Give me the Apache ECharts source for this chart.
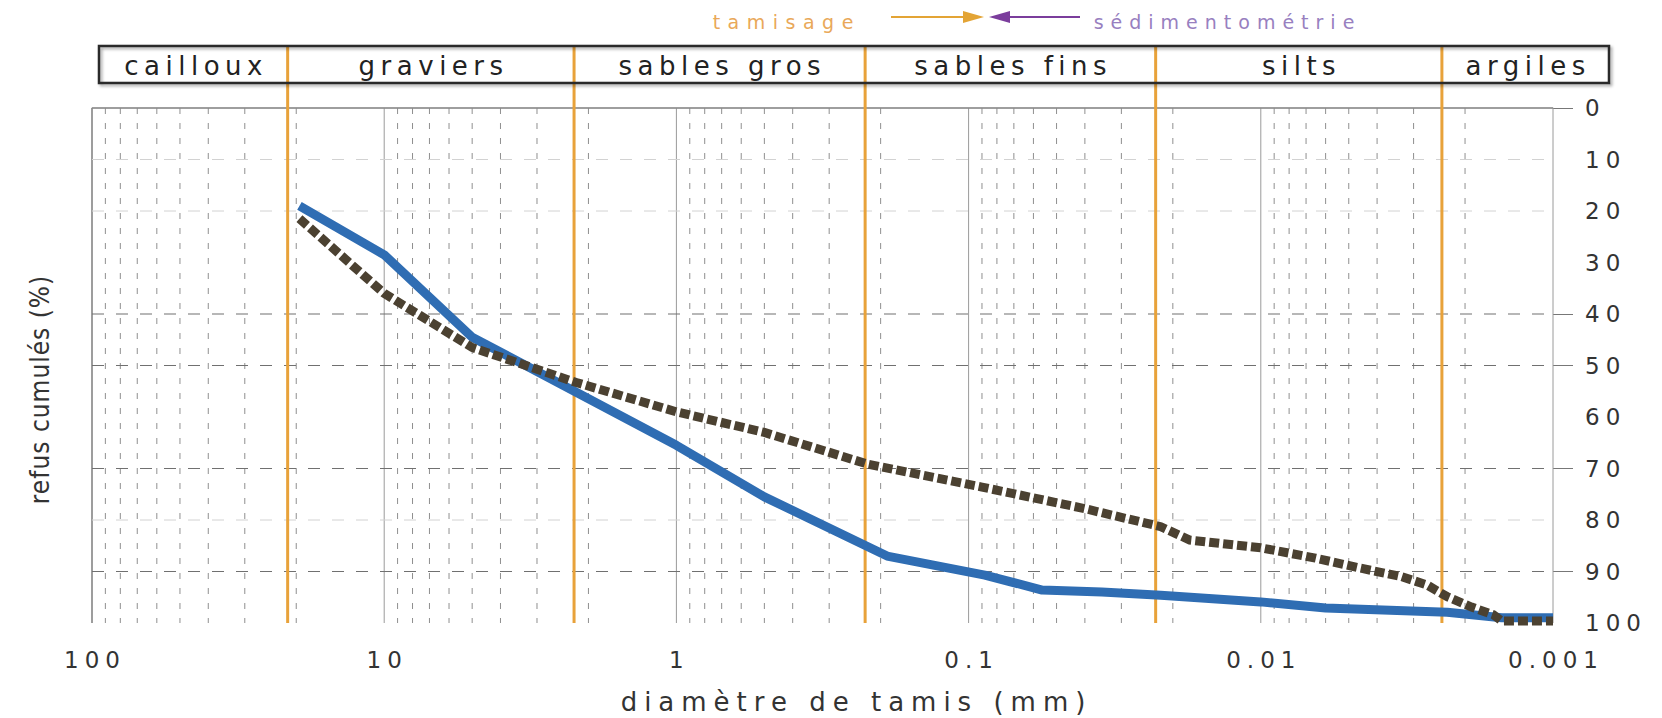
<!DOCTYPE html>
<html><head><meta charset="utf-8">
<script src="https://cdn.jsdelivr.net/npm/echarts@6/dist/echarts.min.js"></script>
<style>html,body{margin:0;padding:0;background:#fff}#c{width:1662px;height:718px}</style>
</head><body><div id="c"></div>
<script>
// ---- data ----
const classNames = ['cailloux', 'graviers', 'sables gros', 'sables fins', 'silts', 'argiles'];
const classBounds = [21.4, 2.24, 0.226, 0.0229, 0.0024];          // mm, class limits (orange lines)
const decades = [100, 10, 1, 0.1, 0.01, 0.001];
const xTickLabels = ['100', '10', '1', '0.1', '0.01', '0.001'];
const minorBases = [10, 1, 0.1, 0.01, 0.001];
const minorMultipliers = [2, 3, 4, 5, 6, 7, 8, 9];
const yTickValues = [0, 10, 20, 30, 40, 50, 60, 70, 80, 90, 100];
const hGridDark = [40, 50, 70, 90];
const hGridLight = [10, 20, 80];

const blueDiam = [19.5, 10, 5, 1, 0.5, 0.19, 0.088, 0.056, 0.035, 0.022, 0.01, 0.006, 0.0023, 0.0015, 0.001];
const bluePct  = [19, 28.5, 44.5, 65.5, 75.5, 87, 90.7, 93.6, 94, 94.6, 95.9, 97.1, 97.9, 99, 99];

const brownDiam = [19.5, 10, 5, 2.2, 1, 0.5, 0.22, 0.09, 0.04, 0.022, 0.0175, 0.01, 0.0065, 0.0046, 0.0033, 0.0027, 0.0023, 0.0019, 0.0016, 0.0015, 0.001];
const brownPct  = [21.5, 36, 46.5, 53.3, 59, 63, 69.2, 73.6, 77.8, 81.3, 83.9, 85.4, 87.4, 89.3, 91, 92.6, 94.9, 96.9, 98.4, 99.6, 99.6];

// ---- style ----
const FONT = '"DejaVu Sans", sans-serif';
const ORANGE = '#e8a23a';
const BLUE = '#2f6db3';
const BROWN = '#4b4131';
const TXT = '#333333';

const chartDom = document.getElementById('c');
const chart = echarts.init(chartDom, null, {renderer: 'svg', width: 1662, height: 718});

function fmtX(v) {
  let best = 0, bd = 1e9;
  decades.forEach((d, i) => { const e = Math.abs(Math.log10(v) - Math.log10(d)); if (e < bd) { bd = e; best = i; } });
  return xTickLabels[best];
}

const minorValues = [];
minorBases.forEach(b => minorMultipliers.forEach(m => minorValues.push(b * m)));

// vertical rule lines drawn through the axis scales
function vRules(values, style, gi, y0, y1, z) {
  return {
    type: 'custom', xAxisIndex: gi, yAxisIndex: gi, z: z, silent: true, clip: false, animation: false,
    data: values.map(v => [v, y0, y1]), encode: {x: 0, y: [1, 2]},
    renderItem: (params, api) => {
      const a = api.coord([api.value(0), api.value(1)]);
      const b = api.coord([api.value(0), api.value(2)]);
      return {type: 'line', shape: {x1: a[0], y1: a[1], x2: b[0], y2: b[1]}, style: Object.assign({fill: null}, style)};
    }
  };
}
// horizontal rule lines
function hRules(values, style, z) {
  return {
    type: 'custom', xAxisIndex: 0, yAxisIndex: 0, z: z, silent: true, clip: false, animation: false,
    data: values.map(v => [100, v, 0.001]), encode: {x: [0, 2], y: 1},
    renderItem: (params, api) => {
      const a = api.coord([api.value(0), api.value(1)]);
      const b = api.coord([api.value(2), api.value(1)]);
      return {type: 'line', shape: {x1: a[0], y1: a[1], x2: b[0], y2: b[1]}, style: Object.assign({fill: null}, style)};
    }
  };
}

const logAxis = (grid, show) => ({
  type: 'log', logBase: 10, min: 0.001, max: 100, inverse: true, gridIndex: grid, show: show,
  axisLine: {show: true, lineStyle: {color: '#cfcfcf', width: 1.5}}, axisTick: {show: false},
  splitLine: {show: false}, minorTick: {show: false}, minorSplitLine: {show: false},
  axisLabel: {margin: 25, fontSize: 23, fontFamily: FONT, color: TXT, formatter: fmtX, showMinLabel: true, showMaxLabel: true}
});

chart.setOption({
  animation: false,
  grid: [
    {left: 92, right: 109, top: 108, bottom: 95},
    {left: 92, right: 109, top: 46, height: 62}
  ],
  xAxis: [logAxis(0, true), logAxis(1, false)],
  yAxis: [
    {type: 'value', gridIndex: 0, min: 0, max: 100, interval: 10, inverse: true, position: 'right',
     axisLine: {show: false}, splitLine: {show: false},
     axisTick: {show: true, length: 20, lineStyle: {color: '#777'}, customValues: [0, 40, 50, 70, 90]},
     axisLabel: {margin: 32, fontSize: 23, fontFamily: FONT, color: TXT, customValues: yTickValues}},
    {type: 'value', gridIndex: 1, min: 0, max: 1, show: false}
  ],
  series: [
    vRules(minorValues, {stroke: '#8f8f8f', lineWidth: 1, lineDash: [6, 9]}, 0, 0, 100, 1),
    vRules(decades.slice(1), {stroke: '#9a9a9a', lineWidth: 1}, 0, 0, 100, 1),
    vRules(decades.slice(0, 1), {stroke: '#7d7d7d', lineWidth: 1.5}, 0, 0, 100, 1),
    hRules(hGridLight, {stroke: '#d2d2d2', lineWidth: 1, lineDash: [12, 12]}, 1),
    hRules(hGridDark, {stroke: '#707070', lineWidth: 1.2, lineDash: [12, 12]}, 1),
    hRules([0], {stroke: '#8a8a8a', lineWidth: 1.5}, 1),
    vRules(classBounds, {stroke: ORANGE, lineWidth: 3}, 0, 0, 100, 2),
    vRules(classBounds, {stroke: ORANGE, lineWidth: 3}, 1, 0, 1, 2),
    {name: 'courbe 1', type: 'line', xAxisIndex: 0, yAxisIndex: 0, z: 3, silent: true, symbol: 'none',
     data: blueDiam.map((d, i) => [d, bluePct[i]]),
     lineStyle: {color: BLUE, width: 9, join: 'round', cap: 'butt'}},
    {name: 'courbe 2', type: 'line', xAxisIndex: 0, yAxisIndex: 0, z: 4, silent: true, symbol: 'none',
     data: brownDiam.map((d, i) => [d, brownPct[i]]),
     lineStyle: {color: BROWN, width: 9, type: [10, 4], cap: 'butt', join: 'miter'}}
  ]
});

// ---- decorations positioned through the axis scale ----
const px = v => chart.convertToPixel({xAxisIndex: 0}, v);
const boxL = 99, boxR = 1609, boxT = 46, boxB = 83;
const edges = [boxL].concat(classBounds.map(px)).concat([boxR]);
const headerTexts = classNames.map((n, i) => ({
  type: 'text', x: (edges[i] + edges[i + 1]) / 2, y: (boxT + boxB) / 2 + 1, z: 20,
  style: {text: n, fontSize: 26, fontFamily: FONT, fill: '#222', align: 'center', verticalAlign: 'middle'}
}));

chart.setOption({
  graphic: [
    {type: 'rect', z: 15, shape: {x: boxL, y: boxT, width: boxR - boxL, height: boxB - boxT},
     style: {fill: 'none', stroke: '#2a2a2a', lineWidth: 2.5, shadowBlur: 3, shadowOffsetX: 2, shadowOffsetY: 2, shadowColor: 'rgba(0,0,0,0.35)'}},
    ...headerTexts,
    {type: 'text', x: 783, y: 22, style: {text: 'tamisage', fontSize: 19, fontFamily: FONT, fill: '#e9a859', align: 'center', verticalAlign: 'middle'}},
    {type: 'line', shape: {x1: 891, y1: 17, x2: 966, y2: 17}, style: {stroke: '#e3a435', lineWidth: 2}},
    {type: 'polygon', shape: {points: [[984, 17], [963, 11], [963, 23]]}, style: {fill: '#e3a435'}},
    {type: 'polygon', shape: {points: [[989, 17], [1010, 11], [1010, 23]]}, style: {fill: '#7b3d9c'}},
    {type: 'line', shape: {x1: 1007, y1: 17, x2: 1080, y2: 17}, style: {stroke: '#7b3d9c', lineWidth: 2}},
    {type: 'text', x: 1224, y: 22, style: {text: 'sédimentométrie', fontSize: 19, fontFamily: FONT, fill: '#9880bf', align: 'center', verticalAlign: 'middle'}},
    {type: 'text', x: 853, y: 702, style: {text: 'diamètre de tamis (mm)', fontSize: 26, fontFamily: FONT, fill: TXT, align: 'center', verticalAlign: 'middle'}},
    {type: 'text', x: 40, y: 390, rotation: Math.PI / 2,
     style: {text: 'refus cumulés (%)', fontSize: 26, fontFamily: '"DejaVu Sans Condensed", "Liberation Sans Narrow", sans-serif', fill: TXT, align: 'center', verticalAlign: 'middle'}}
  ]
});

// ---- letter spacing (SVG text) ----
function spacingFor(s) {
  if (classNames.indexOf(s) >= 0) return 5.5;
  if (s === 'tamisage') return 7.5;
  if (s === 'sédimentométrie') return 7;
  if (s === 'diamètre de tamis (mm)') return 7;
  if (s === 'refus cumulés (%)') return 1;
  return 6;
}
function applySpacing() {
  chartDom.querySelectorAll('text').forEach(t => {
    const s = t.textContent.trim();
    if (!s) return;
    const ls = spacingFor(s);
    t.setAttribute('letter-spacing', ls);
    t.style.letterSpacing = ls + 'px';
    const a = t.getAttribute('text-anchor');
    if (a === 'middle') t.setAttribute('dx', ls / 2);
    else if (a === 'end') t.setAttribute('dx', ls);
  });
}
applySpacing();
chart.on('finished', applySpacing);
</script></body></html>
